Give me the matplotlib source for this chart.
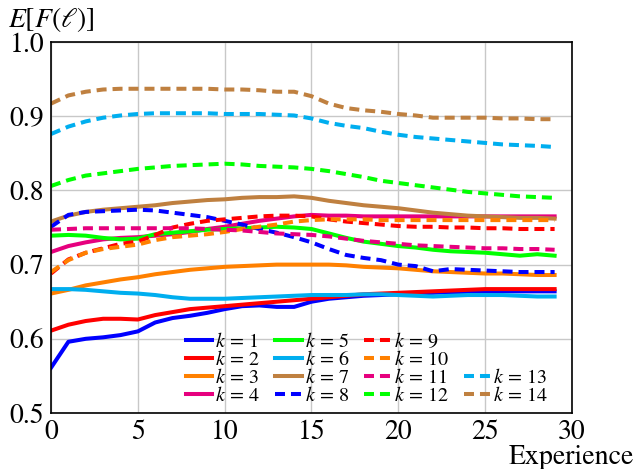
# -*- coding: utf-8 -*-
"""
E[F(l)] over experience for k = 1..14
"""

import matplotlib
matplotlib.use("Agg")
import matplotlib.pyplot as plt
import numpy as np

plt.rcParams['font.family'] = ['STIXGeneral', 'DejaVu Serif']
plt.rcParams['mathtext.fontset'] = 'stix'
plt.rcParams['lines.scale_dashes'] = False

experience = np.arange(30)

# solid curves, k = 1..7
k1 = [0.561, 0.596, 0.600, 0.602, 0.605, 0.610, 0.622, 0.628, 0.631, 0.635,
      0.640, 0.644, 0.645, 0.643, 0.643, 0.650, 0.654, 0.656, 0.658, 0.659,
      0.660, 0.661, 0.662, 0.663, 0.663, 0.664, 0.664, 0.664, 0.664, 0.664]
k2 = [0.611, 0.619, 0.624, 0.627, 0.627, 0.626, 0.632, 0.636, 0.640, 0.642,
      0.644, 0.646, 0.648, 0.650, 0.652, 0.654, 0.656, 0.658, 0.660, 0.661,
      0.662, 0.663, 0.664, 0.665, 0.666, 0.667, 0.667, 0.667, 0.667, 0.667]
k3 = [0.661, 0.666, 0.672, 0.676, 0.680, 0.683, 0.687, 0.690, 0.693, 0.695,
      0.697, 0.698, 0.699, 0.700, 0.700, 0.700, 0.700, 0.699, 0.697, 0.696,
      0.695, 0.693, 0.691, 0.690, 0.689, 0.688, 0.688, 0.687, 0.686, 0.686]
k4 = [0.717, 0.725, 0.730, 0.734, 0.736, 0.737, 0.739, 0.741, 0.744, 0.748,
      0.751, 0.755, 0.759, 0.762, 0.765, 0.767, 0.766, 0.766, 0.765, 0.765,
      0.765, 0.765, 0.765, 0.765, 0.765, 0.765, 0.765, 0.765, 0.765, 0.765]
k5 = [0.739, 0.740, 0.739, 0.736, 0.734, 0.735, 0.741, 0.743, 0.745, 0.747,
      0.748, 0.749, 0.750, 0.751, 0.750, 0.748, 0.742, 0.736, 0.731, 0.728,
      0.725, 0.723, 0.720, 0.718, 0.717, 0.716, 0.714, 0.712, 0.714, 0.712]
k6 = [0.667, 0.667, 0.666, 0.664, 0.662, 0.661, 0.659, 0.656, 0.654, 0.654,
      0.654, 0.655, 0.656, 0.657, 0.658, 0.659, 0.659, 0.659, 0.660, 0.660,
      0.659, 0.658, 0.657, 0.658, 0.659, 0.659, 0.659, 0.658, 0.657, 0.657]
k7 = [0.758, 0.766, 0.771, 0.774, 0.776, 0.778, 0.780, 0.783, 0.785, 0.787,
      0.788, 0.790, 0.791, 0.791, 0.792, 0.790, 0.786, 0.783, 0.780, 0.778,
      0.776, 0.773, 0.770, 0.768, 0.766, 0.765, 0.764, 0.763, 0.763, 0.762]

# dashed curves, k = 8..14
k8 = [0.751, 0.767, 0.771, 0.772, 0.773, 0.774, 0.773, 0.770, 0.767, 0.764,
      0.759, 0.754, 0.748, 0.743, 0.737, 0.730, 0.721, 0.713, 0.709, 0.706,
      0.700, 0.698, 0.691, 0.694, 0.693, 0.692, 0.691, 0.690, 0.690, 0.690]
k9 = [0.688, 0.707, 0.716, 0.722, 0.728, 0.731, 0.740, 0.750, 0.755, 0.759,
      0.761, 0.763, 0.765, 0.766, 0.766, 0.765, 0.761, 0.758, 0.756, 0.754,
      0.752, 0.751, 0.751, 0.750, 0.750, 0.749, 0.749, 0.748, 0.748, 0.748]
k10 = [0.690, 0.706, 0.716, 0.721, 0.724, 0.727, 0.733, 0.737, 0.739, 0.741,
       0.744, 0.748, 0.751, 0.754, 0.758, 0.760, 0.761, 0.761, 0.761, 0.760,
       0.760, 0.760, 0.760, 0.760, 0.760, 0.760, 0.760, 0.760, 0.760, 0.760]
k11 = [0.747, 0.748, 0.749, 0.749, 0.749, 0.749, 0.749, 0.749, 0.749, 0.748,
       0.747, 0.746, 0.744, 0.742, 0.741, 0.740, 0.738, 0.735, 0.732, 0.730,
       0.728, 0.726, 0.725, 0.724, 0.723, 0.722, 0.722, 0.721, 0.721, 0.720]
k12 = [0.806, 0.814, 0.820, 0.823, 0.826, 0.829, 0.831, 0.833, 0.834, 0.835,
       0.836, 0.835, 0.833, 0.832, 0.831, 0.829, 0.826, 0.822, 0.818, 0.813,
       0.810, 0.807, 0.804, 0.801, 0.798, 0.796, 0.794, 0.792, 0.791, 0.790]
k13 = [0.876, 0.886, 0.893, 0.898, 0.901, 0.903, 0.904, 0.904, 0.904, 0.904,
       0.903, 0.903, 0.903, 0.902, 0.901, 0.897, 0.891, 0.887, 0.884, 0.879,
       0.875, 0.872, 0.870, 0.868, 0.866, 0.864, 0.862, 0.861, 0.860, 0.8585]
k14 = [0.917, 0.928, 0.933, 0.936, 0.937, 0.937, 0.937, 0.937, 0.937, 0.937,
       0.936, 0.936, 0.935, 0.933, 0.933, 0.927, 0.917, 0.911, 0.908, 0.906,
       0.903, 0.901, 0.898, 0.898, 0.898, 0.898, 0.897, 0.897, 0.896, 0.896]

series = [k1, k2, k3, k4, k5, k6, k7, k8, k9, k10, k11, k12, k13, k14]
colors = ['#0000ff', '#ff0000', '#ff8000', '#e6007e', '#00ff00', '#00aeef', '#bf8040',
          '#0000ff', '#ff0000', '#ff8000', '#e6007e', '#00ff00', '#00aeef', '#bf8040']
dash = (0, (7.2, 4.3))

fig = plt.figure(figsize=(6.33, 4.69), dpi=100)
ax = fig.add_axes([0.0806, 0.1194, 0.823, 0.791])

handles = []
for i, (y, c) in enumerate(zip(series, colors)):
    ls = '-' if i < 7 else dash
    h, = ax.plot(experience, y, color=c, lw=2.9, linestyle=ls,
                 solid_joinstyle='round', dash_capstyle='butt',
                 label=r'$k\,=\,%d$' % (i + 1))
    handles.append(h)

ax.set_xlim(0, 30)
ax.set_ylim(0.5, 1.0)
ax.set_xticks(np.arange(0, 31, 5))
ax.set_yticks(np.arange(0.5, 1.01, 0.1))
ax.set_yticklabels(['0.5', '0.6', '0.7', '0.8', '0.9', '1.0'])
ax.grid(True, color='#c8c8c8', lw=1.0)
ax.set_axisbelow(True)
ax.tick_params(length=0, labelsize=20, pad=5)
for s in ax.spines.values():
    s.set_linewidth(1.2)
    s.set_color('black')

ax.set_xlabel('Experience', fontsize=20, va='center', ha='center')
ax.xaxis.set_label_coords(0.998, -0.119)
ax.set_ylabel(r'$E[F(\ell)]$', fontsize=20, rotation=0, va='center', ha='center')
ax.yaxis.set_label_coords(0.0, 1.06)

# the fourth column holds only k = 13, 14, so pad its top with two hidden rows
blank = plt.Line2D([], [], color='none')
leg_h = handles[:12] + [blank, blank] + handles[12:]
leg_l = [h.get_label() for h in handles[:12]] + [r'$k\,=\,0$'] * 2 + [h.get_label() for h in handles[12:]]
leg = ax.legend(leg_h, leg_l, ncol=4, loc='lower left', bbox_to_anchor=(0.24, -0.005),
                frameon=False, fontsize=14.5, borderpad=0, labelspacing=-0.05,
                handlelength=1.3, handletextpad=0.15, columnspacing=0.75)
for t in leg.get_texts()[12:14]:
    t.set_color('none')

plt.savefig('out.png', dpi=100)
